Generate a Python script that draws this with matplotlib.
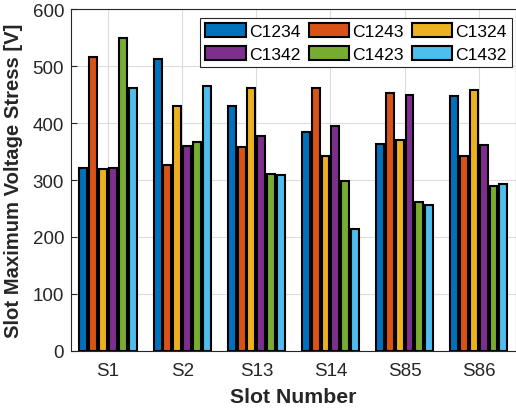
import matplotlib.pyplot as plt
import numpy as np

slots = ["S1", "S2", "S13", "S14", "S85", "S86"]
configs = ["C1234", "C1243", "C1324", "C1342", "C1423", "C1432"]
c1234 = [321, 512, 430, 385, 364, 448]
c1243 = [516, 326, 358, 461, 452, 342]
c1324 = [319, 430, 461, 342, 371, 458]
c1342 = [321, 360, 377, 395, 450, 361]
c1423 = [549, 366, 311, 298, 261, 290]
c1432 = [462, 465, 308, 214, 256, 293]
series = [c1234, c1243, c1324, c1342, c1423, c1432]
colors = ["#0072BD", "#D95319", "#EDB120", "#7E2F8E", "#77AC30", "#4DBEEE"]

plt.rcParams["font.family"] = ["Liberation Sans", "DejaVu Sans"]

fig = plt.figure(figsize=(5.16, 4.14), dpi=100)
ax = fig.add_axes([0.1376, 0.1498, 0.862, 0.826])

x = np.arange(1, len(slots) + 1)
pitch = 0.133
width = 0.107
for i, (vals, name, col) in enumerate(zip(series, configs, colors)):
    ax.bar(x + (i - 2.5) * pitch, vals, width, color=col, edgecolor="black",
           linewidth=1.5, label=name, zorder=3)

ax.set_xlim(0.5, 6.5)
ax.set_ylim(0, 600)
ax.set_yticks(range(0, 601, 100))
ax.set_xticks(x)
ax.set_xticklabels(slots)
ax.tick_params(direction="in", labelsize=13.5, colors="#262626", length=4)
ax.tick_params(axis="x", pad=8)
ax.tick_params(axis="y", pad=5)
ax.grid(True, color="#dcdcdc", linewidth=0.8, zorder=0)
ax.set_axisbelow(True)
for s in ax.spines.values():
    s.set_color("#262626")
    s.set_linewidth(0.8)
ax.set_xlabel("Slot Number", fontsize=15.3, fontweight="bold", color="#262626",
              labelpad=6)
ax.set_ylabel("Slot Maximum Voltage Stress [V]", fontsize=14.6,
              fontweight="bold", color="#262626", labelpad=7)

# row-major order like MATLAB
handles, labels = ax.get_legend_handles_labels()
order = [0, 3, 1, 4, 2, 5]
leg = ax.legend([handles[k] for k in order], [labels[k] for k in order],
                ncol=3, loc="upper right", bbox_to_anchor=(0.992, 0.975),
                fontsize=12.6, fancybox=False, framealpha=1, edgecolor="#262626",
                handlelength=2.3, handleheight=0.86, handletextpad=0.2,
                columnspacing=0.45, labelspacing=0.4, borderpad=0.3,
                borderaxespad=0.0)
leg.get_frame().set_linewidth(0.8)

fig.savefig("out.png", dpi=100)
